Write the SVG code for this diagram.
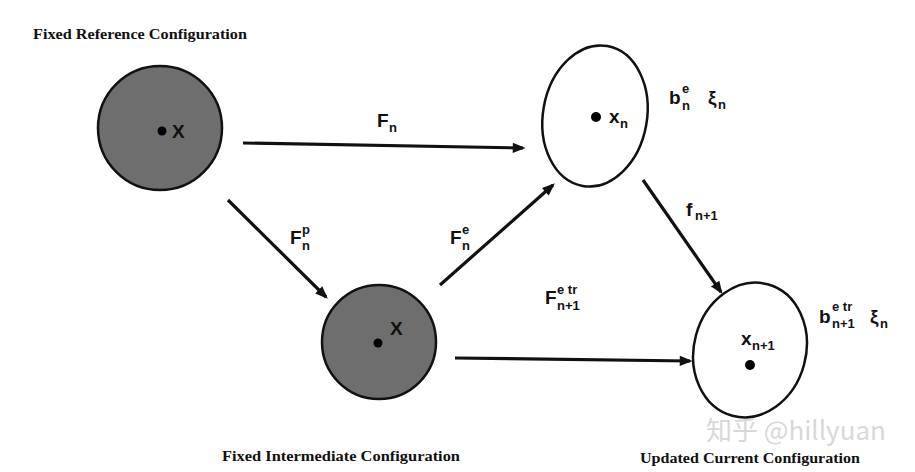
<svg xmlns="http://www.w3.org/2000/svg" width="915" height="472" viewBox="0 0 915 472">
<style>
.cap{font-family:"Liberation Serif",serif;font-weight:bold;font-size:15px;fill:#111}
.lbl{font-family:"Liberation Sans",Arial,sans-serif;font-weight:bold;font-size:19px;fill:#111}
.sm{font-family:"Liberation Sans",Arial,sans-serif;font-weight:bold;font-size:13px;fill:#111}
.shade{fill:#6e6e6e;stroke:#111;stroke-width:2.5}
.open{fill:#fff;stroke:#111;stroke-width:2.5}
.arr{stroke:#111;stroke-width:3.2;fill:none;marker-end:url(#ah)}
</style>
<defs>
<marker id="ah" viewBox="0 0 10 10" refX="8" refY="5" markerWidth="4.5" markerHeight="4" orient="auto" markerUnits="strokeWidth">
<path d="M0,1 L10,5 L0,9 z" fill="#111"/>
</marker>
</defs>
<rect width="915" height="472" fill="#fff"/>
<g id="ref">
<circle class="shade" cx="160" cy="128" r="62"/>
<circle cx="162" cy="131" r="4.5" fill="#000"/>
<text class="lbl" x="172" y="138">X</text>
<text class="cap" x="33" y="39" textLength="214" lengthAdjust="spacingAndGlyphs">Fixed Reference Configuration</text>
</g>
<g id="inter">
<circle class="shade" cx="379" cy="342" r="57"/>
<circle cx="378" cy="343" r="4.5" fill="#000"/>
<text class="lbl" x="390" y="335">X</text>
<text class="cap" x="222" y="461" textLength="238" lengthAdjust="spacingAndGlyphs">Fixed Intermediate Configuration</text>
</g>
<g id="cur">
<ellipse class="open" cx="595" cy="116" rx="52" ry="71" transform="rotate(10 595 116)"/>
<circle cx="596" cy="117" r="5" fill="#000"/>
<text class="lbl" x="609" y="123">x</text>
<text class="sm" x="620" y="128">n</text>
<text class="lbl" x="669" y="104">b</text>
<text class="sm" x="682" y="93">e</text>
<text class="sm" x="682" y="110">n</text>
<text class="lbl" x="708" y="104">ξ</text>
<text class="sm" x="718" y="109">n</text>
</g>
<g id="upd">
<ellipse class="open" cx="750" cy="350" rx="56" ry="68" transform="rotate(15 750 350)"/>
<circle cx="750" cy="365" r="5" fill="#000"/>
<text class="lbl" x="741" y="345">x</text>
<text class="sm" x="752" y="350">n+1</text>
<text class="lbl" x="819" y="323">b</text>
<text class="sm" x="832" y="311">e tr</text>
<text class="sm" x="832" y="328">n+1</text>
<text class="lbl" x="870" y="323">ξ</text>
<text class="sm" x="880" y="328">n</text>
<text class="cap" x="640" y="463" textLength="220" lengthAdjust="spacingAndGlyphs">Updated Current Configuration</text>
</g>
<g id="connectors">
<line class="arr" x1="243" y1="143" x2="523" y2="148"/>
<line class="arr" x1="228" y1="200" x2="326" y2="297"/>
<line class="arr" x1="440" y1="285" x2="553" y2="185"/>
<line class="arr" x1="643" y1="180" x2="721" y2="292"/>
<line class="arr" x1="455" y1="358" x2="690" y2="361"/>
<text class="lbl" x="377" y="127">F</text>
<text class="sm" x="389" y="132">n</text>
<text class="lbl" x="290" y="244">F</text>
<text class="sm" x="302" y="234">p</text>
<text class="sm" x="302" y="250">n</text>
<text class="lbl" x="450" y="244">F</text>
<text class="sm" x="462" y="234">e</text>
<text class="sm" x="462" y="250">n</text>
<text class="lbl" x="686" y="216">f</text>
<text class="sm" x="695" y="220">n+1</text>
<text class="lbl" x="545" y="304">F</text>
<text class="sm" x="557" y="294">e tr</text>
<text class="sm" x="557" y="310">n+1</text>
</g>
<text x="706" y="440" style="font-family:'Noto Sans CJK SC','Noto Sans',sans-serif;font-size:26px;fill:#d8d8d8">知乎 @hillyuan</text>
</svg>
